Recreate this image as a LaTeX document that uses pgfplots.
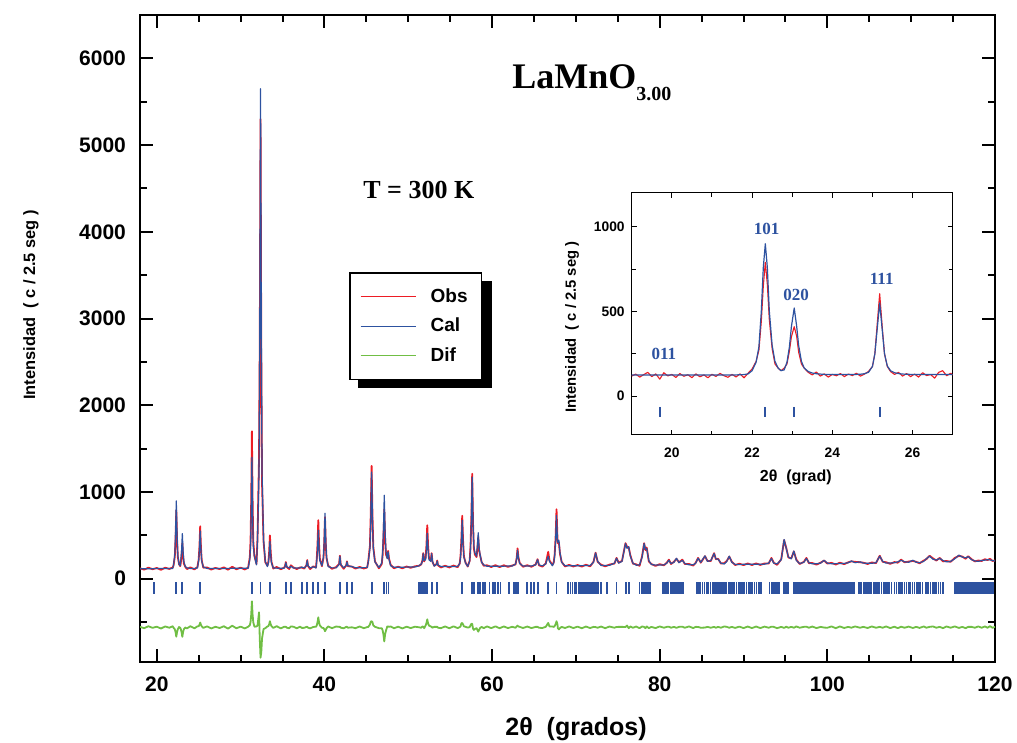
\documentclass[border=0pt]{standalone}
\usepackage{fontspec}
\setmainfont{Liberation Sans}
\newfontfamily\tnr{Liberation Serif}
\usepackage{pgfplots}
\usepackage{pgfplotstable}
\pgfplotsset{compat=1.18}
\definecolor{obsred}{RGB}{237,28,36}
\definecolor{calblue}{RGB}{45,82,160}
\definecolor{difgreen}{RGB}{112,190,68}

\pgfplotstableread{
x obs cal dif
18.0 120 115 -555
18.5 105 115 -570
19.0 128 116 -548
19.5 110 116 -566
20.0 124 117 -553
20.5 103 117 -574
21.0 127 117 -550
21.5 113 118 -565
21.9 130 118 -548
22.0 152 157 -565
22.15 252 274 -582
22.24 454 508 -614
22.33 790 898 -668
22.42 454 508 -614
22.51 252 274 -582
22.66 168 165 -557
22.8 145 150 -565
22.87 186 208 -582
22.96 264 319 -615
23.05 410 520 -670
23.14 264 319 -615
23.23 176 198 -582
23.4 138 140 -562
23.6 112 125 -573
24.0 131 119 -548
24.5 108 119 -571
24.85 135 124 -549
25.0 221 210 -549
25.09 362 334 -532
25.18 605 550 -505
25.27 362 334 -532
25.36 216 205 -549
25.55 128 135 -567
26.0 130 119 -549
26.5 106 119 -573
27.0 125 119 -554
27.5 111 119 -568
28.0 131 119 -548
28.5 104 119 -575
29.0 138 120 -542
29.5 109 120 -571
30.0 128 120 -552
30.5 107 120 -573
30.9 127 121 -554
31.1 247 223 -536
31.19 437 377 -500
31.27 911 761 -410
31.35 1700 1400 -260
31.43 911 761 -410
31.51 437 377 -500
31.65 264 257 -553
31.9 170 160 -550
32.02 470 450 -540
32.2 1400 1227 -387
32.29 2750 2886 -696
32.38 5300 5650 -910
32.47 2600 2886 -846
32.56 1100 1227 -687
32.74 430 450 -580
32.95 190 200 -570
33.2 150 140 -550
33.32 197 183 -546
33.41 311 276 -525
33.5 500 430 -490
33.59 311 276 -525
33.68 197 183 -546
33.9 118 125 -567
34.3 135 122 -547
34.8 110 122 -572
35.2 128 122 -554
35.3 145 140 -555
35.4 192 185 -553
35.5 136 140 -564
35.8 112 123 -571
36.0 155 145 -550
36.3 130 123 -553
36.7 112 123 -571
37.1 131 124 -553
37.3 128 135 -567
37.6 118 124 -566
37.85 155 150 -555
37.95 215 210 -555
38.05 145 150 -565
38.3 112 124 -572
38.67 142 138 -556
39.0 131 124 -553
39.09 234 211 -537
39.18 400 342 -502
39.27 675 560 -445
39.36 400 342 -502
39.45 234 211 -537
39.7 145 150 -565
39.89 242 251 -569
39.98 418 440 -582
40.07 710 755 -605
40.16 410 440 -590
40.25 240 251 -571
40.45 150 140 -550
40.9 115 125 -570
41.4 134 125 -551
41.75 170 165 -555
41.85 265 260 -555
41.95 160 165 -565
42.3 115 126 -571
42.6 155 150 -555
42.69 200 195 -555
42.8 145 150 -565
43.28 140 140 -560
43.7 117 127 -570
44.2 136 127 -551
44.7 118 128 -570
45.1 130 128 -558
45.23 198 194 -556
45.43 380 348 -528
45.53 744 679 -495
45.63 1300 1230 -490
45.73 740 679 -499
45.83 370 348 -538
46.03 200 194 -554
46.5 120 130 -570
46.84 170 180 -570
46.94 264 297 -593
47.04 465 546 -641
47.14 800 963 -723
47.24 465 546 -641
47.34 280 320 -600
47.5 240 230 -550
47.6 320 310 -550
47.7 235 230 -555
47.9 160 150 -550
48.3 121 132 -571
48.8 139 132 -553
49.3 120 133 -573
49.8 141 134 -553
50.3 126 135 -569
50.8 143 136 -553
51.3 150 150 -560
51.55 165 170 -565
51.69 210 200 -550
51.79 295 290 -555
51.9 200 210 -570
52.07 240 220 -540
52.17 377 331 -514
52.27 617 525 -468
52.37 377 331 -514
52.47 240 220 -540
52.69 210 200 -550
52.79 295 290 -555
52.89 195 200 -565
53.1 150 145 -555
53.38 170 165 -555
53.46 210 205 -555
53.55 155 160 -565
53.9 130 140 -570
54.4 150 140 -550
54.9 130 141 -571
55.4 152 141 -549
55.9 133 142 -569
56.14 177 174 -557
56.24 259 249 -550
56.34 454 408 -514
56.44 725 675 -510
56.54 440 408 -528
56.64 260 249 -549
56.84 185 180 -555
57.1 140 143 -563
57.33 207 205 -558
57.43 370 348 -538
57.53 696 656 -520
57.63 1210 1170 -520
57.73 640 656 -576
57.83 350 380 -590
57.95 280 300 -580
58.15 250 260 -570
58.25 350 380 -590
58.35 480 530 -610
58.45 330 360 -590
58.55 280 290 -570
58.75 195 190 -555
59.0 150 160 -570
59.4 155 144 -549
59.9 135 145 -570
60.4 156 145 -549
60.9 134 145 -571
61.4 155 145 -550
61.9 137 146 -569
62.4 152 146 -554
62.8 165 170 -565
62.94 240 230 -550
63.04 350 330 -540
63.14 250 240 -550
63.3 180 175 -555
63.7 138 146 -568
64.2 156 147 -551
64.7 138 147 -569
65.2 165 160 -555
65.43 225 220 -555
65.6 155 160 -565
66.0 140 148 -568
66.4 175 170 -555
66.7 310 260 -510
66.85 210 200 -550
67.2 160 150 -550
67.36 189 185 -556
67.47 280 266 -546
67.58 475 440 -525
67.69 800 730 -490
67.8 475 440 -525
67.85 410 420 -570
67.97 420 444 -584
68.1 290 300 -570
68.3 195 190 -555
68.7 142 150 -568
69.2 160 150 -550
69.7 141 150 -569
70.2 158 150 -552
70.7 140 151 -571
71.2 161 152 -551
71.7 143 152 -569
72.1 195 190 -555
72.35 300 298 -558
72.6 195 200 -565
73.0 162 153 -551
73.5 143 153 -570
74.0 163 154 -551
74.6 175 180 -565
74.85 240 236 -556
75.1 185 180 -555
75.5 205 200 -555
75.92 410 406 -556
76.1 370 350 -540
76.3 360 370 -570
76.5 270 260 -550
76.8 175 180 -565
77.2 165 156 -551
77.6 150 160 -570
77.9 260 250 -550
78.14 410 406 -556
78.3 330 340 -570
78.45 360 350 -550
78.7 200 210 -570
79.0 170 165 -555
79.5 148 157 -569
80.0 168 158 -550
80.5 155 160 -565
80.85 185 180 -555
81.09 220 213 -553
81.35 170 175 -565
81.7 195 190 -555
82.0 230 236 -566
82.3 190 185 -555
82.7 220 213 -553
83.0 170 175 -565
83.5 170 160 -550
84.0 152 161 -569
84.3 185 180 -555
84.58 240 236 -556
84.9 185 190 -565
85.4 260 263 -563
85.7 205 200 -555
86.1 205 210 -565
86.49 295 290 -555
86.7 225 230 -565
86.97 230 225 -555
87.3 175 180 -565
87.7 180 170 -550
88.0 205 200 -555
88.3 255 260 -565
88.6 195 190 -555
89.0 158 165 -567
89.5 173 165 -552
90.0 157 166 -569
90.5 176 167 -551
91.0 158 167 -569
91.5 177 168 -551
92.0 159 168 -569
92.5 176 168 -552
93.0 175 180 -565
93.33 240 233 -553
93.6 185 180 -555
94.0 160 170 -570
94.5 225 220 -555
94.84 445 452 -567
95.1 355 348 -553
95.35 245 250 -565
95.7 235 230 -555
96.0 315 320 -565
96.3 220 210 -550
96.7 170 175 -565
97.2 195 190 -555
97.5 240 233 -553
97.8 180 185 -565
98.2 181 172 -551
98.7 163 172 -569
99.2 185 180 -555
99.6 210 213 -563
100.0 175 180 -565
100.5 183 173 -550
101.0 164 174 -570
101.5 185 175 -550
102.0 168 176 -568
102.5 190 185 -555
102.87 200 205 -565
103.3 195 185 -550
103.9 190 195 -565
104.3 185 180 -555
104.8 170 178 -568
105.3 188 178 -550
105.8 180 185 -565
106.25 265 260 -555
106.6 195 200 -565
107.0 190 180 -550
107.5 172 181 -569
108.0 192 185 -553
108.4 185 195 -570
108.8 220 213 -553
109.2 190 195 -565
109.7 198 190 -552
110.2 205 213 -568
110.6 195 190 -555
111.0 178 185 -567
111.5 210 200 -550
111.8 225 230 -565
112.2 265 260 -555
112.6 235 225 -550
113.0 210 215 -565
113.4 240 235 -555
113.8 200 210 -570
114.2 205 195 -550
114.7 195 200 -565
115.2 240 230 -550
115.7 265 272 -567
116.1 255 250 -555
116.5 230 240 -570
116.8 260 255 -555
117.2 225 220 -555
117.6 200 205 -565
118.0 210 200 -550
118.4 205 210 -565
118.8 225 215 -550
119.1 215 220 -565
119.4 230 217 -547
119.7 205 210 -565
120.0 210 205 -555
}\maindata

\pgfplotstableread{
x obs cal
19.0 118 124
19.1 130 124
19.2 112 124
19.3 127 124
19.4 140 124
19.5 115 124
19.6 131 124
19.7 100 124
19.8 138 124
19.9 119 124
20.0 128 124
20.1 110 124
20.2 133 124
20.3 117 124
20.4 126 124
20.5 109 124
20.6 131 124
20.7 114 124
20.8 125 124
20.9 108 124
21.0 129 124
21.1 116 124
21.2 134 124
21.3 120 124
21.4 111 124
21.5 128 125
21.6 113 125
21.7 131 126
21.8 108 127
21.9 135 131
22.0 160 150
22.1 205 200
22.17 270 290
22.23 440 500
22.28 650 760
22.33 790 900
22.38 660 760
22.43 450 500
22.5 280 300
22.57 190 205
22.65 165 165
22.72 150 150
22.8 165 155
22.87 190 200
22.93 265 290
22.98 350 410
23.05 410 520
23.11 355 415
23.16 260 300
23.23 190 205
23.3 165 165
23.4 140 145
23.5 125 136
23.6 142 132
23.7 118 130
23.8 131 128
23.9 112 127
24.0 128 127
24.1 120 127
24.2 133 127
24.3 115 127
24.4 130 127
24.5 121 127
24.6 135 128
24.7 118 129
24.8 130 132
24.9 145 140
25.0 175 175
25.06 250 250
25.12 430 400
25.18 605 550
25.24 420 400
25.3 250 250
25.37 175 178
25.45 145 150
25.55 128 138
25.65 140 133
25.75 118 130
25.85 133 129
25.95 115 128
26.05 130 128
26.15 112 128
26.25 138 128
26.35 121 128
26.45 127 128
26.55 106 128
26.65 140 128
26.75 150 128
26.85 120 128
26.95 135 128
27.0 125 128
}\insetdata

\begin{document}
\begin{tikzpicture}
\useasboundingbox (0,0) rectangle (508.5pt,371.5pt);
\begin{axis}[
  at={(70pt,40.5pt)}, anchor=south west, scale only axis,
  width=427.5pt, height=323.5pt,
  xmin=18, xmax=120, ymin=-960, ymax=6500,
  xtick={20,40,...,120}, minor x tick num=3,
  ytick={0,1000,...,6000}, minor ytick={-500,500,1500,2500,3500,4500,5500},
  axis line style={line width=1.2pt},
  tick style={black, line width=1pt},
  major tick length=6.5pt, minor tick length=3.5pt,
  ticklabel style={font=\bfseries\fontsize{10.5}{12}\selectfont},
  xticklabel style={yshift=-4pt},
  yticklabel style={xshift=-3.5pt},
  /pgf/number format/assume math mode=true,
  /pgf/number format/1000 sep={},
  xlabel={2θ\ \ (grados)},
  xlabel style={font=\bfseries\fontsize{12.5}{14}\selectfont, at={(axis description cs:0.51,-0.1036)}, anchor=center},
  ylabel={Intensidad\ \ ( c / 2.5 seg )},
  ylabel style={font=\bfseries\fontsize{8.2}{10}\selectfont, at={(axis description cs:-0.1275,0.552)}, anchor=center},
  clip mode=individual,
  every axis plot/.append style={line join=round},
  legend cell align=left,
  legend image code/.code={\draw[#1, line width=0.5pt] (0pt,0pt) -- (27.8pt,0pt);},
  legend style={at={(axis description cs:0.2448,0.6023)}, anchor=north west,
    draw=black, line width=0.8pt, fill=white,
    font=\bfseries\fontsize{9.5}{11}\selectfont,
    inner xsep=5pt, inner ysep=5.6pt, row sep=2.4pt, column sep=5pt},
]
\fill[black] (rel axis cs:0.2553,0.4235) rectangle (rel axis cs:0.4120,0.5884);
\addplot[obsred, line width=0.9pt] table[x=x, y=obs]{\maindata};
\addlegendentry{Obs}
\addplot[calblue, line width=0.6pt] table[x=x, y=cal]{\maindata};
\addlegendentry{Cal}
\addplot[difgreen, line width=0.9pt] table[x=x, y=dif]{\maindata};
\addlegendentry{Dif}
\addplot[calblue, only marks, mark=|, mark size=3pt, mark options={line width=0.9pt}, forget plot] coordinates {
(19.7,-110) (22.33,-110) (23.05,-110) (25.18,-110) (31.35,-110) (32.38,-110) (33.5,-110) (35.4,-110) (36.0,-110) (37.3,-110) (37.95,-110) (38.67,-110) (39.27,-110) (40.07,-110) (41.85,-110) (42.69,-110) (43.28,-110) (45.63,-110) (47.14,-110) (47.4,-110) (47.65,-110)
(51.3,-110) (51.45,-110) (51.6,-110) (51.79,-110) (52.0,-110) (52.27,-110) (52.8,-110) (53.46,-110)
(56.44,-110) (57.63,-110) (57.85,-110) (58.35,-110) (58.6,-110) (58.9,-110) (59.2,-110) (59.7,-110) (60.1,-110) (60.35,-110) (60.7,-110) (61.0,-110) (62.0,-110) (62.6,-110) (62.85,-110) (63.1,-110) (64.2,-110) (64.6,-110) (65.0,-110) (65.45,-110) (66.7,-110) (67.69,-110)
(69.1,-110) (69.35,-110) (69.6,-110) (69.85,-110) (70.05,-110) (70.3,-110) (70.5,-110) (70.75,-110) (71.0,-110) (71.2,-110) (71.45,-110) (71.7,-110) (71.95,-110) (72.2,-110) (72.4,-110) (72.65,-110) (72.95,-110) (73.7,-110) (74.85,-110) (76.0,-110) (76.3,-110)
(77.6,-110) (77.85,-110) (78.1,-110) (78.35,-110) (78.6,-110) (78.8,-110)
(80.4,-110) (80.6,-110) (80.85,-110) (81.05,-110) (81.3,-110) (81.5,-110) (81.75,-110) (81.95,-110) (82.15,-110) (82.4,-110) (82.6,-110) (82.8,-110)
(84.4,-110) (84.6,-110) (84.85,-110) (85.1,-110) (85.35,-110) (85.6,-110) (85.8,-110) (86.05,-110) (86.3,-110) (86.5,-110) (86.75,-110) (87.0,-110) (87.2,-110) (87.45,-110) (87.7,-110) (87.95,-110) (88.2,-110) (88.4,-110) (88.65,-110) (88.9,-110) (89.15,-110) (89.4,-110) (89.6,-110) (89.85,-110) (90.1,-110) (90.35,-110) (90.6,-110) (90.8,-110) (91.05,-110) (91.3,-110) (91.55,-110) (91.8,-110) (92.05,-110)
(93.1,-110) (93.35,-110) (93.6,-110) (93.85,-110) (94.1,-110) (94.3,-110) (94.8,-110) (95.05,-110) (95.3,-110)
(96.0,-110) (96.25,-110) (96.5,-110) (96.7,-110) (96.95,-110) (97.2,-110) (97.45,-110) (97.7,-110) (97.9,-110) (98.15,-110) (98.4,-110) (98.6,-110) (98.85,-110) (99.1,-110) (99.35,-110) (99.6,-110) (99.8,-110) (100.05,-110) (100.3,-110) (100.55,-110) (100.8,-110) (101.0,-110) (101.25,-110) (101.5,-110) (101.75,-110) (102.0,-110) (102.2,-110) (102.45,-110) (102.7,-110) (102.95,-110) (103.2,-110)
(103.8,-110) (104.05,-110) (104.3,-110) (104.5,-110) (104.75,-110) (105.0,-110) (105.25,-110) (105.5,-110) (105.7,-110) (105.95,-110) (106.2,-110) (106.45,-110) (106.7,-110) (106.9,-110) (107.15,-110) (107.4,-110) (107.65,-110)
(108.0,-110) (108.25,-110) (108.5,-110) (108.7,-110) (108.95,-110) (109.2,-110) (109.45,-110) (109.7,-110) (109.9,-110) (110.15,-110) (110.4,-110) (110.65,-110) (110.9,-110) (111.1,-110) (111.35,-110)
(111.8,-110) (112.05,-110) (112.3,-110) (112.55,-110) (112.75,-110) (113.0,-110) (113.25,-110) (113.5,-110) (113.75,-110)
(115.2,-110) (115.45,-110) (115.7,-110) (115.9,-110) (116.15,-110) (116.4,-110) (116.65,-110) (116.9,-110) (117.1,-110) (117.35,-110) (117.6,-110) (117.85,-110) (118.1,-110) (118.3,-110) (118.55,-110) (118.8,-110) (119.05,-110) (119.3,-110) (119.5,-110) (119.75,-110)
};
\node[anchor=base west, font=\tnr\bfseries\fontsize{18}{20}\selectfont, inner sep=0pt] at (rel axis cs:0.435,0.887) {LaMnO\raisebox{-6pt}{\fontsize{10}{10}\selectfont 3.00}};
\node[anchor=base west, font=\tnr\bfseries\fontsize{13}{15}\selectfont, inner sep=0pt] at (rel axis cs:0.2608,0.7156) {T = 300 K};
\end{axis}

\begin{axis}[
  at={(315.85pt,154pt)}, anchor=south west, scale only axis,
  width=160.5pt, height=121pt,
  xmin=19, xmax=27, ymin=-230, ymax=1200,
  xtick={20,22,24,26}, minor x tick num=1,
  ytick={0,500,1000}, minor y tick num=1,
  axis line style={line width=0.5pt},
  tick style={black, line width=0.5pt},
  major tick length=2.5pt, minor tick length=2pt,
  ticklabel style={font=\bfseries\fontsize{6.9}{8}\selectfont},
  xticklabel style={yshift=-2.75pt},
  /pgf/number format/assume math mode=true,
  /pgf/number format/1000 sep={},
  xlabel={2θ\ \ (grad)},
  xlabel style={font=\bfseries\fontsize{8}{9}\selectfont, at={(axis description cs:0.511,-0.174)}, anchor=center},
  ylabel={Intensidad\ \ ( c / 2.5 seg )},
  ylabel style={font=\bfseries\fontsize{7.4}{9}\selectfont, at={(axis description cs:-0.186,0.446)}, anchor=center},
  axis background/.style={fill=white},
  clip mode=individual,
  every axis plot/.append style={line join=round},
]
\addplot[obsred, line width=0.55pt] table[x=x, y=obs]{\insetdata};
\addplot[calblue, line width=0.6pt] table[x=x, y=cal]{\insetdata};
\addplot[calblue, only marks, mark=|, mark size=2.6pt, mark options={line width=0.45pt}] coordinates {
(19.685,-95) (19.715,-95) (22.315,-95) (22.345,-95) (23.035,-95) (23.065,-95) (25.165,-95) (25.195,-95)};
\node[calblue, font=\tnr\bfseries\fontsize{8.5}{10}\selectfont] at (axis cs:19.8,250) {011};
\node[calblue, font=\tnr\bfseries\fontsize{8.5}{10}\selectfont] at (axis cs:22.36,985) {101};
\node[calblue, font=\tnr\bfseries\fontsize{8.5}{10}\selectfont] at (axis cs:23.1,600) {020};
\node[calblue, font=\tnr\bfseries\fontsize{8.5}{10}\selectfont] at (axis cs:25.23,695) {111};
\end{axis}
\end{tikzpicture}
\end{document}
